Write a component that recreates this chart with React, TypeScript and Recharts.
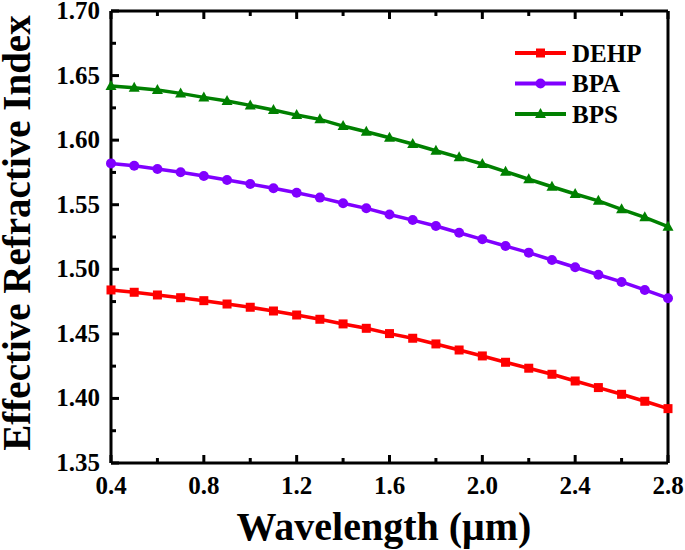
import React from "react";
import { Label, Legend, Line, LineChart, XAxis, YAxis } from "recharts";

const wavelength = [
  0.4, 0.5, 0.6, 0.7, 0.8, 0.9, 1.0, 1.1, 1.2, 1.3, 1.4, 1.5, 1.6, 1.7, 1.8,
  1.9, 2.0, 2.1, 2.2, 2.3, 2.4, 2.5, 2.6, 2.7, 2.8,
];
const dehp = [
  1.484, 1.4822, 1.4801, 1.478, 1.4757, 1.4731, 1.4706, 1.4677, 1.4646, 1.4613,
  1.4577, 1.4543, 1.4502, 1.4466, 1.4422, 1.4375, 1.4329, 1.428, 1.4234, 1.4187,
  1.4135, 1.4084, 1.4032, 1.3978, 1.3921,
];
const bpa = [
  1.582, 1.5802, 1.5776, 1.5751, 1.5722, 1.5691, 1.566, 1.5627, 1.5593, 1.5555,
  1.5511, 1.5472, 1.5424, 1.5381, 1.5335, 1.5283, 1.5232, 1.518, 1.5129, 1.5072,
  1.5016, 1.4958, 1.4902, 1.484, 1.4776,
];
const bps = [
  1.6419, 1.6406, 1.6388, 1.6362, 1.6331, 1.6303, 1.6269, 1.6233, 1.6194,
  1.6161, 1.6109, 1.6065, 1.6018, 1.597, 1.5918, 1.5867, 1.5815, 1.5756, 1.5697,
  1.5639, 1.5583, 1.553, 1.5464, 1.5402, 1.533,
];

const xTicks = [0.4, 0.6, 0.8, 1.0, 1.2, 1.4, 1.6, 1.8, 2.0, 2.2, 2.4, 2.6, 2.8];
const yTicks = [
  1.35, 1.375, 1.4, 1.425, 1.45, 1.475, 1.5, 1.525, 1.55, 1.575, 1.6, 1.625,
  1.65, 1.675, 1.7,
];

const series = [
  { key: "dehp", name: "DEHP", color: "#ff0000", marker: "square" },
  { key: "bpa", name: "BPA", color: "#8000ff", marker: "circle" },
  { key: "bps", name: "BPS", color: "#008000", marker: "triangle" },
];

const data = wavelength.map((x, i) => ({
  x,
  dehp: dehp[i],
  bpa: bpa[i],
  bps: bps[i],
}));

const FONT = "'Liberation Serif', 'Times New Roman', serif";
const MAJOR = 8;
const MINOR = 5;

const isMajorX = (v: number) => Math.round(v * 10) % 4 === 0;
const isMajorY = (v: number) => Math.round(v * 1000) % 50 === 0;

const Marker = ({ type, cx, cy, color }: any) => {
  if (cx == null || cy == null) return null;
  if (type === "square")
    return <rect x={cx - 4.5} y={cy - 4.5} width={9} height={9} fill={color} />;
  if (type === "circle") return <circle cx={cx} cy={cy} r={5} fill={color} />;
  return (
    <polygon
      points={`${cx},${cy - 6} ${cx - 5.5},${cy + 4} ${cx + 5.5},${cy + 4}`}
      fill={color}
    />
  );
};

const BottomTick = (props: any) => {
  const { x, y, payload } = props;
  const major = isMajorX(payload.value);
  return (
    <g>
      <line x1={x} y1={y} x2={x} y2={y - (major ? MAJOR : MINOR)} stroke="#000" strokeWidth={3} />
      {major && (
        <text x={x} y={y + 31} textAnchor="middle" fontFamily={FONT} fontWeight="bold" fontSize={25} fill="#000">
          {payload.value.toFixed(1)}
        </text>
      )}
    </g>
  );
};

const TopTick = (props: any) => {
  const { x, y, payload } = props;
  const major = isMajorX(payload.value);
  return <line x1={x} y1={y} x2={x} y2={y + (major ? MAJOR : MINOR)} stroke="#000" strokeWidth={3} />;
};

const LeftTick = (props: any) => {
  const { x, y, payload } = props;
  const major = isMajorY(payload.value);
  return (
    <g>
      <line x1={x} y1={y} x2={x + (major ? MAJOR : MINOR)} y2={y} stroke="#000" strokeWidth={3} />
      {major && (
        <text x={x - 11} y={y + 8} textAnchor="end" fontFamily={FONT} fontWeight="bold" fontSize={25} fill="#000">
          {payload.value.toFixed(2)}
        </text>
      )}
    </g>
  );
};

const RightTick = (props: any) => {
  const { x, y, payload } = props;
  const major = isMajorY(payload.value);
  return <line x1={x} y1={y} x2={x - (major ? MAJOR : MINOR)} y2={y} stroke="#000" strokeWidth={3} />;
};

const LegendBox = () => (
  <svg width={150} height={100}>
    {series.map((s, i) => {
      const y = 18 + i * 30.5;
      return (
        <g key={s.key}>
          <line x1={10} y1={y} x2={61} y2={y} stroke={s.color} strokeWidth={4} />
          <Marker type={s.marker} cx={35.5} cy={y} color={s.color} />
          <text x={67} y={y + 8.5} fontFamily={FONT} fontWeight="bold" fontSize={25} fill="#000">
            {s.name}
          </text>
        </g>
      );
    })}
  </svg>
);

export default function App() {
  return (
    <div style={{ position: "absolute", left: 0, top: 0, background: "#fff" }}>
      <LineChart
        width={685}
        height={550}
        data={data}
        margin={{ top: 10, right: 16, bottom: 86, left: 110 }}
      >
        <XAxis
          dataKey="x"
          type="number"
          domain={[0.4, 2.8]}
          ticks={xTicks}
          interval={0}
          height={1}
          tickSize={0}
          tickMargin={0}
          tickLine={false}
          tick={<BottomTick />}
          axisLine={{ stroke: "#000", strokeWidth: 3 }}
        >
          <Label
            content={() => (
              <text x={384} y={540} textAnchor="middle" fontFamily={FONT} fontWeight="bold" fontSize={40} fill="#000">
                Wavelength (μm)
              </text>
            )}
          />
        </XAxis>
        <XAxis
          xAxisId="top"
          orientation="top"
          dataKey="x"
          type="number"
          domain={[0.4, 2.8]}
          ticks={xTicks}
          interval={0}
          height={1}
          tickSize={0}
          tickMargin={0}
          tickLine={false}
          tick={<TopTick />}
          axisLine={{ stroke: "#000", strokeWidth: 3 }}
        />
        <YAxis
          type="number"
          domain={[1.35, 1.7]}
          ticks={yTicks}
          interval={0}
          width={1}
          tickSize={0}
          tickMargin={0}
          tickLine={false}
          tick={<LeftTick />}
          axisLine={{ stroke: "#000", strokeWidth: 3 }}
        >
          <Label
            content={() => (
              <text
                x={30}
                y={233}
                transform="rotate(-90, 30, 233)"
                textAnchor="middle"
                fontFamily={FONT}
                fontWeight="bold"
                fontSize={39}
                fill="#000"
              >
                Effective Refractive Index
              </text>
            )}
          />
        </YAxis>
        <YAxis
          yAxisId="right"
          orientation="right"
          type="number"
          domain={[1.35, 1.7]}
          ticks={yTicks}
          interval={0}
          width={1}
          tickSize={0}
          tickMargin={0}
          tickLine={false}
          tick={<RightTick />}
          axisLine={{ stroke: "#000", strokeWidth: 3 }}
        />
        <Legend
          layout="vertical"
          align="center"
          verticalAlign="middle"
          content={() => <LegendBox />}
          wrapperStyle={{ left: 505, top: 35, width: 150, height: 100 }}
        />
        {series.map((s) => (
          <Line
            key={s.key}
            dataKey={s.key}
            name={s.name}
            type="linear"
            stroke={s.color}
            strokeWidth={3.5}
            isAnimationActive={false}
            dot={(p: any) => (
              <Marker key={`${s.key}-${p.index}`} type={s.marker} cx={p.cx} cy={p.cy} color={s.color} />
            )}
            activeDot={false}
          />
        ))}
      </LineChart>
    </div>
  );
}
